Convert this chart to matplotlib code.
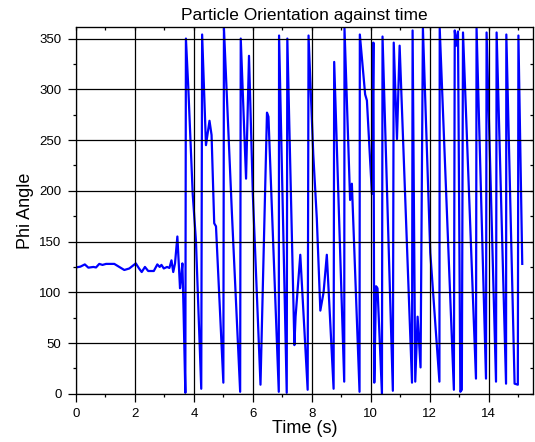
import matplotlib
matplotlib.use('Agg')
import matplotlib.pyplot as plt
from matplotlib.ticker import MultipleLocator

plt.rcParams['font.family'] = ['Liberation Sans', 'DejaVu Sans']

# time (s) and phi angle
time = [0.0, 0.15, 0.3, 0.42, 0.59, 0.68, 0.79, 0.9, 1.02, 1.3,
        1.47, 1.64, 1.81, 2.03, 2.14, 2.23, 2.34, 2.45, 2.64, 2.76,
        2.84, 2.9, 2.98, 3.09, 3.17, 3.24, 3.30, 3.36, 3.44, 3.53,
        3.57, 3.61, 3.65, 3.71, 3.73, 3.81, 3.96, 4.07, 4.25, 4.28,
        4.41, 4.53, 4.60, 4.69, 4.75, 5.0, 5.02, 5.29, 5.57, 5.59,
        5.77, 5.87, 6.0, 6.26, 6.48, 6.53, 6.88, 6.89, 7.15, 7.17,
        7.41, 7.45, 7.61, 7.86, 7.89, 8.05, 8.17, 8.29, 8.40, 8.51,
        8.74, 8.76, 9.10, 9.11, 9.30, 9.36, 9.62, 9.63, 9.81, 9.87,
        10.04, 10.09, 10.12, 10.18, 10.23, 10.38, 10.40, 10.75, 10.78, 10.89,
        10.98, 11.40, 11.42, 11.51, 11.59, 11.69, 11.77, 12.02, 12.33, 12.34,
        12.82, 12.85, 12.90, 12.96, 13.04, 13.09, 13.13, 13.57, 13.59, 13.91,
        13.93, 14.25, 14.27, 14.59, 14.60, 14.88, 14.99, 15.01, 15.14]
phi = [124.5, 125.3, 127.5, 124.3, 125, 124.5, 128, 127, 128, 128,
       125, 122, 123.5, 128.5, 123.5, 120, 125, 121, 121, 127.5,
       125, 127, 123.5, 125, 124, 131.5, 120, 128.5, 155, 104,
       115, 128.5, 82, 1, 350, 302, 197, 151, 5, 354,
       245, 269, 255, 168, 165, 11, 360, 178, 2, 350,
       212, 333, 197, 9, 277, 273, 2, 353, 1, 350,
       48, 76, 137, 4, 353, 236, 173, 82, 100, 137,
       5, 327, 12, 360, 191, 207, 2, 354, 295, 289,
       197, 346, 11, 106, 104, 0, 352, 3, 346, 251,
       343, 11, 358, 12, 76, 26, 360, 139, 12, 360,
       4, 358, 343, 357, 2, 4, 356, 15, 360, 15,
       356, 12, 356, 10, 354, 10, 9, 353, 128]

fig = plt.figure(figsize=(5.35, 4.42), dpi=100)
ax = fig.add_axes([0.142, 0.109, 0.854, 0.829])

ax.plot(time, phi, color='#0000ff', lw=1.6)

ax.set_xlim(0, 15.5)
ax.set_ylim(0, 361)
ax.xaxis.set_major_locator(MultipleLocator(2))
ax.xaxis.set_minor_locator(MultipleLocator(1))
ax.yaxis.set_major_locator(MultipleLocator(50))
ax.yaxis.set_minor_locator(MultipleLocator(25))
ax.grid(True, which='major', color='black', lw=0.9)
ax.set_axisbelow(False)
ax.tick_params(which='major', direction='out', length=5.5, width=0.9, labelsize=9.5, pad=5)
ax.tick_params(which='minor', direction='out', length=2.5, width=0.9)
for s in ax.spines.values():
    s.set_linewidth(0.9)

top = ax.secondary_xaxis('top')
top.xaxis.set_major_locator(MultipleLocator(2))
top.xaxis.set_minor_locator(MultipleLocator(1))
top.tick_params(which='both', direction='in', labeltop=False, length=2.5, width=0.9)
right = ax.secondary_yaxis('right')
right.yaxis.set_major_locator(MultipleLocator(50))
right.yaxis.set_minor_locator(MultipleLocator(25))
right.tick_params(which='both', direction='in', labelright=False, length=2.5, width=0.9)

ax.set_title('Particle Orientation against time', fontsize=12.5, pad=5)
ax.set_xlabel('Time (s)', fontsize=13, labelpad=0)
ax.set_ylabel('Phi Angle', fontsize=13, labelpad=4)

fig.savefig('out.png', dpi=100)
